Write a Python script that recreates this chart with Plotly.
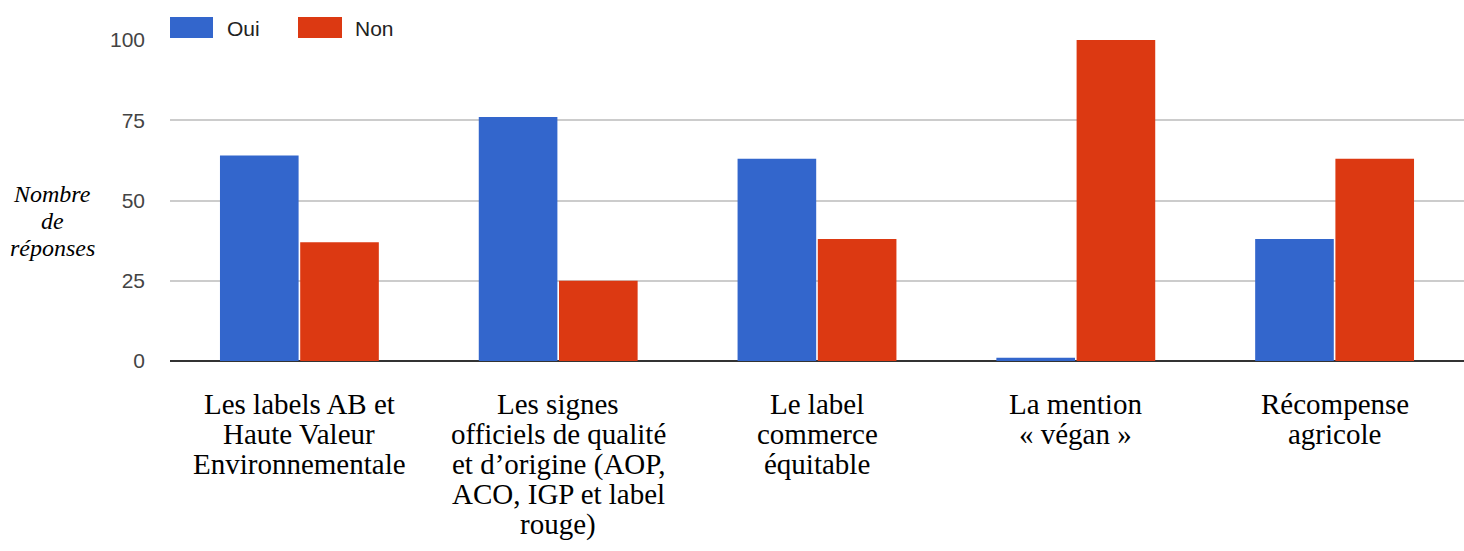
import plotly.graph_objects as go

categories = [
    "Les labels AB et\nHaute Valeur\nEnvironnementale",
    "Les signes\nofficiels de qualité\net d’origine (AOP,\nACO, IGP et label\nrouge)",
    "Le label\ncommerce\néquitable",
    "La mention\n« végan »",
    "Récompense\nagricole",
]
series_names = ["Oui", "Non"]
oui_values = [64, 76, 63, 1, 38]
non_values = [37, 25, 38, 100, 63]
y_ticks = [0, 25, 50, 75, 100]
y_title_lines = ["Nombre", "de", "réponses"]

colors = ["#3366cc", "#dc3912"]
SERIF = "Liberation Serif, Times New Roman, serif"
SANS = "Liberation Sans, Arial, sans-serif"

W, H = 1464, 551
M_L, M_R, M_T, M_B = 170, 0, 40, 190
plot_w = W - M_L - M_R
plot_h = H - M_T - M_B


def px_x(x):
    return (x - M_L) / plot_w


def px_y(y):
    return (H - M_B - y) / plot_h


fig = go.Figure()
for name, vals, col in zip(series_names, [oui_values, non_values], colors):
    fig.add_trace(go.Bar(x=categories, y=vals, name=name, marker_color=col,
                         marker_line_width=0, showlegend=False))

# Category labels, one line at a time for a tight 30px leading
for cat in categories:
    for i, line in enumerate(cat.split("\n")):
        fig.add_annotation(text=line, x=cat, xref="x", yref="paper",
                           y=px_y(404 + 30 * i), xanchor="center", yanchor="middle",
                           showarrow=False,
                           font=dict(family=SERIF, size=29, color="#000000"))

# Legend drawn as wide swatches above the plot
legend_items = [(170, 213, 225), (298, 342, 353)]
for (x0, x1, tx), name, col in zip(legend_items, series_names, colors):
    fig.add_shape(type="rect", xref="paper", yref="paper",
                  x0=px_x(x0), x1=px_x(x1), y0=px_y(38), y1=px_y(17),
                  fillcolor=col, line=dict(width=0), layer="above")
    fig.add_annotation(text=name, xref="paper", yref="paper",
                       x=px_x(tx), y=px_y(28), xanchor="left", yanchor="middle",
                       showarrow=False,
                       font=dict(family=SANS, size=21, color="#222222"))

# Vertical axis title, italic, stacked on three lines
for i, line in enumerate(y_title_lines):
    fig.add_annotation(text="<i>" + line + "</i>", xref="paper", yref="paper",
                       x=px_x(52), y=px_y(194 + 27 * i), xanchor="center", yanchor="middle",
                       showarrow=False,
                       font=dict(family=SERIF, size=24, color="#000000"))

fig.update_layout(
    width=W, height=H,
    margin=dict(l=M_L, r=M_R, t=M_T, b=M_B, pad=0),
    paper_bgcolor="white", plot_bgcolor="white",
    barmode="group", bargap=0.38, bargroupgap=0.02,
    xaxis=dict(showticklabels=False, showgrid=False, showline=False,
               zeroline=False, ticks=""),
    yaxis=dict(
        range=[0, 100], tickvals=y_ticks, ticktext=[str(v) for v in y_ticks],
        tickfont=dict(family=SANS, size=21, color="#444444"),
        showgrid=True, gridcolor="#cccccc", gridwidth=2,
        zeroline=True, zerolinecolor="#333333", zerolinewidth=2,
        showline=False, ticks="", ticklabelstandoff=24,
    ),
)

fig.write_html("out.html")
